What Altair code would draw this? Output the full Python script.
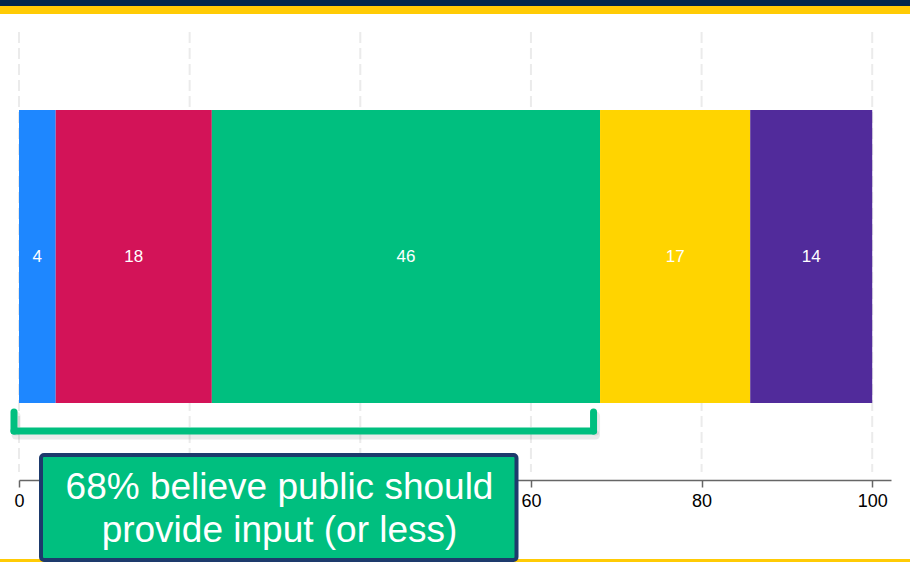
import altair as alt
import pandas as pd

# ---- data ----
categories = ["Level 1", "Level 2", "Level 3", "Level 4", "Level 5"]
values = [4.3, 18.3, 45.5, 17.6, 14.3]
labels = ["4", "18", "46", "17", "14"]
colors = ["#1E87FF", "#D31358", "#00BF7F", "#FFD400", "#512B9B"]
tick_values = [0, 20, 40, 60, 80, 100]
note_lines = ["68% believe public should", "provide input (or less)"]
bracket_count = 3  # first three segments are covered by the bracket

FONT = "Liberation Sans"

df = pd.DataFrame({"cat": categories, "value": values, "label": labels, "color": colors})
df["end"] = df["value"].cumsum()
df["start"] = df["end"] - df["value"]
df["mid"] = (df["start"] + df["end"]) / 2

ticks_df = pd.DataFrame({"t": tick_values})
bracket_df = pd.DataFrame({"start": [0.0], "end": [float(df["end"].iloc[bracket_count - 1])]})
one = pd.DataFrame({"k": [0]})

xscale = alt.Scale(domain=[0, 102.2], nice=False, zero=False)
xaxis = alt.Axis(
    values=tick_values, title=None, grid=False, orient="bottom",
    domainColor="#666666", domainWidth=1.5, tickColor="#666666", tickWidth=1.5,
    tickSize=7, labelFontSize=18, labelColor="#000000", labelFont=FONT,
    labelPadding=5, labelFlush=False,
)


def X(field):
    return alt.X(field, type="quantitative", scale=xscale, axis=xaxis)


bands = [
    alt.Chart(one).mark_rect(color="#00274C").encode(
        x=alt.value(-19), x2=alt.value(891), y=alt.value(0), y2=alt.value(6)),
    alt.Chart(one).mark_rect(color="#FFCB05").encode(
        x=alt.value(-19), x2=alt.value(891), y=alt.value(6), y2=alt.value(14)),
    alt.Chart(one).mark_rect(color="#FFCB05").encode(
        x=alt.value(-19), x2=alt.value(891), y=alt.value(559), y2=alt.value(565)),
]

grid = alt.Chart(ticks_df).mark_rule(
    color="#EBEBEB", strokeWidth=2, strokeDash=[11, 5]
).encode(x=X("t"), y=alt.value(32), y2=alt.value(472))

bars = alt.Chart(df).mark_rect().encode(
    x=X("start"), x2="end", y=alt.value(110), y2=alt.value(403),
    color=alt.Color("color:N", scale=None, legend=None),
)

seg_text = alt.Chart(df).mark_text(
    color="white", fontSize=17, font=FONT, baseline="middle", align="center"
).encode(x=X("mid"), y=alt.value(257), text="label:N")


# bracket (shadow then stroke)
def bracket(color, width, dx, dy, opacity):
    common = dict(color=color, strokeWidth=width, strokeCap="round", opacity=opacity)
    left = alt.Chart(bracket_df).mark_rule(xOffset=-5 + dx, yOffset=dy, **common).encode(
        x=X("start"), y=alt.value(412), y2=alt.value(431))
    right = alt.Chart(bracket_df).mark_rule(xOffset=-6.5 + dx, yOffset=dy, **common).encode(
        x=X("end"), y=alt.value(412), y2=alt.value(431))
    bottom = alt.Chart(bracket_df).mark_rule(
        xOffset=-5 + dx, x2Offset=-6.5 + dx, yOffset=dy, **common
    ).encode(x=X("start"), x2="end", y=alt.value(431))
    return [left, right, bottom]


shadow = bracket("#000000", 9, 2, 4, 0.08)
green_bracket = bracket("#00BF7F", 7, 0, 0, 1)

box = alt.Chart(one).mark_rect(
    fill="#00BF7F", stroke="#1D3A6C", strokeWidth=4, cornerRadius=3
).encode(x=alt.value(22), x2=alt.value(497.5), y=alt.value(455), y2=alt.value(560))

note = alt.Chart(one).mark_text(
    color="white", fontSize=37, font=FONT, align="center", baseline="middle", lineHeight=43
).encode(x=alt.value(260.5), y=alt.value(488), text=alt.value(note_lines))

chart = alt.layer(
    *bands, grid, bars, seg_text, *shadow, *green_bracket, box, note
).properties(
    width=872, height=480,
    padding={"left": 19, "top": 0, "right": 19, "bottom": 82},
    autosize=alt.AutoSizeParams(type="none"),
    background="white",
).configure_view(stroke=None)

chart.save("out.html", embed_options={"renderer": "svg", "actions": False})
